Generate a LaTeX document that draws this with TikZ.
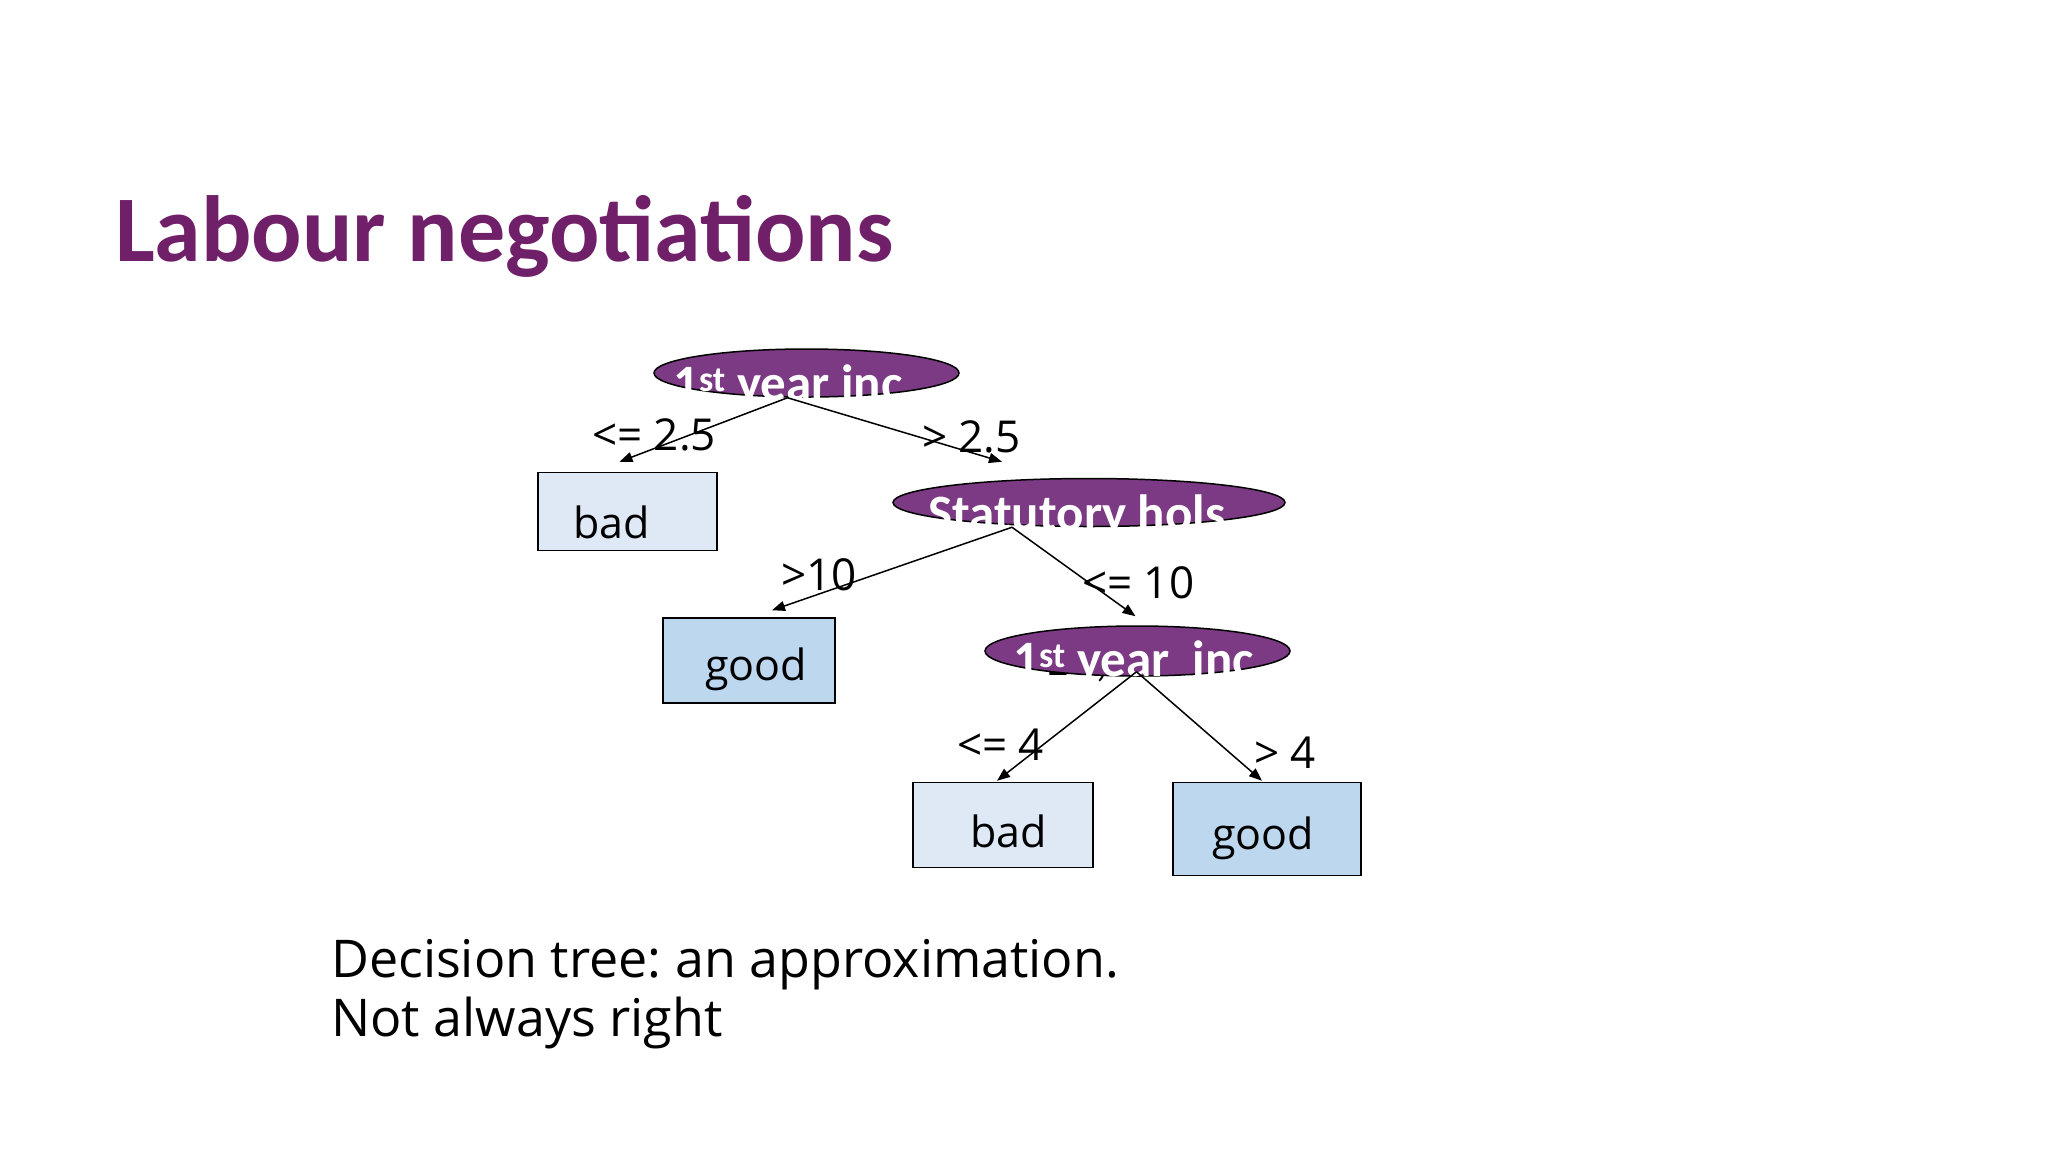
\documentclass[tikz,border=0pt]{standalone}
\usepackage{fontspec}
\setmainfont{Open Sans}
\newfontfamily\calibri{Carlito}
\usetikzlibrary{shapes.geometric, arrows.meta, positioning}
\frenchspacing

\definecolor{titlepurple}{RGB}{112,32,104}
\definecolor{nodepurple}{RGB}{123,58,131}
\definecolor{leaflight}{RGB}{222,233,245}
\definecolor{leafdark}{RGB}{189,215,238}

\begin{document}
\begin{tikzpicture}[
    x=1pt, y=-1pt,
    attr/.style={draw, ellipse, line width=1.5pt, fill=nodepurple, inner sep=0pt},
    attrtext/.style={anchor=base west, inner sep=0pt, text=white, font=\calibri\bfseries\fontsize{51}{51}\selectfont},
    leaf/.style={draw, rectangle, line width=1.5pt, inner ysep=0pt, align=left, font=\fontsize{43}{43}\selectfont},
    cond/.style={anchor=base west, inner sep=0pt, font=\fontsize{44}{44}\selectfont},
    arrow/.style={-{Triangle[length=13pt, width=10pt]}, line width=1.5pt}
]
    \useasboundingbox (0,0) rectangle (2048,1152);

    % Title
    \node[anchor=base west, inner sep=0pt, text=titlepurple, font=\calibri\bfseries\fontsize{94}{94}\selectfont] (title) at (115,261) {Labour negotiations};

    % left-over text under the last test
    \node[anchor=base west, inner sep=0pt, font=\calibri\fontsize{51}{51}\selectfont] (ghost) at (1043,675) {1\textsuperscript{st},\hspace{52pt}...};

    % 1st year inc
    \node[attr, minimum width=305pt, minimum height=48pt] (root) at (806.5,373) {};
    \node[attrtext] (rootlbl) at ([shift={(-133.5,3)}]root.south) {1\textsuperscript{st} year inc};

    % bad
    \node[leaf, fill=leaflight, below=74pt of root, xshift=-179pt, inner xsep=35pt, text width=109pt, text height=66pt, text depth=12pt] (bad1) {bad};

    % Statutory hols
    \node[attr, below=80pt of root, xshift=282.5pt, minimum width=392pt, minimum height=48pt] (hols) {};
    \node[attrtext] (holslbl) at ([shift={(-161,3)}]hols.south) {Statutory hols};

    % good
    \node[leaf, fill=leafdark, below=90pt of hols, xshift=-340pt, inner xsep=42pt, text width=88pt, text height=62pt, text depth=23pt] (good1) {good};

    % 1st year inc again
    \node[attr, below=98pt of hols, xshift=48.5pt, minimum width=305pt, minimum height=50pt] (inc2) {};
    \node[attrtext] (inc2lbl) at ([shift={(-124.5,0)}]inc2.south) {1\textsuperscript{st} year\ \ inc};

    % bad / good
    \node[leaf, fill=leaflight, below=105pt of inc2, xshift=-134.5pt, inner xsep=57pt, text width=66pt, text height=65pt, text depth=20pt] (bad2) {bad};
    \node[leaf, fill=leafdark, below=105pt of inc2, xshift=129.5pt, inner xsep=39pt, text width=110pt, text height=67pt, text depth=26pt] (good2) {good};

    % Arrows
    \draw[arrow] ([xshift=-19pt]root.south) -- ([shift={(-8,-10)}]bad1.north);
    \draw[arrow] ([xshift=-19pt]root.south) -- ([shift={(-87,-16)}]hols.north);
    \draw[arrow] ([xshift=-77pt]hols.south) -- ([shift={(23,-7)}]good1.north);
    \draw[arrow] ([xshift=-77pt]hols.south) -- ([shift={(-2,-9)}]inc2.north);
    \draw[arrow] ([shift={(-1,-5)}]inc2.south) -- ([shift={(-6,-1)}]bad2.north);
    \draw[arrow] ([shift={(-1,-5)}]inc2.south) -- ([shift={(-5,-1)}]good2.north);

    % Conditions
    \node[cond] (le25) at (592,450) {<= 2.5};
    \node[cond] (gt25) at (922,452) {> 2.5};
    \node[cond] (gt10) at (781,590) {>10};
    \node[cond] (le10) at (1082,598) {<= 10};
    \node[cond] (le4) at (957,760) {<= 4};
    \node[cond] (gt4) at (1254,768) {> 4};

    % Caption
    \node[anchor=base west, align=left, inner sep=0pt, font=\fontsize{52}{59}\selectfont] (caption) at (331,1036) {Decision tree: an approximation.\\Not always right};

\end{tikzpicture}
\end{document}
